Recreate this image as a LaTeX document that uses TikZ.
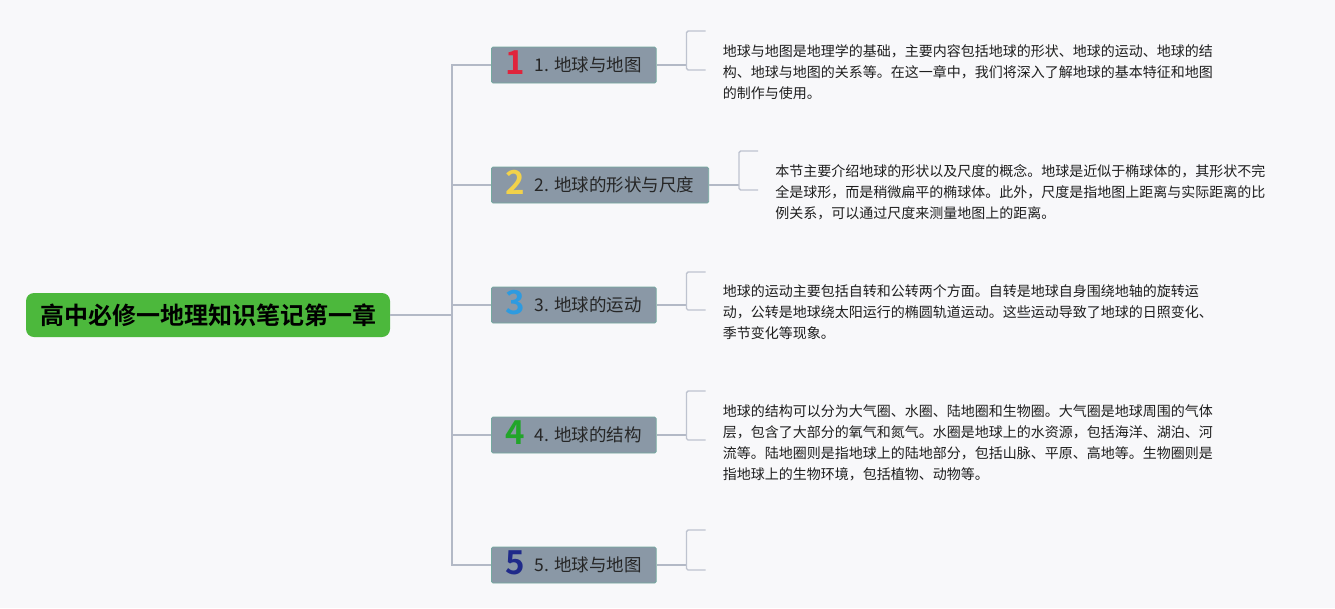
\documentclass[tikz,border=0pt]{standalone}
\usepackage{fontspec}
\newfontfamily\cjk{Noto Sans CJK SC}[BoldFont={Noto Sans CJK SC Bold}]
\usetikzlibrary{positioning}
\definecolor{bgcol}{HTML}{F8F8FA}
\definecolor{rootgreen}{HTML}{4CB83C}
\definecolor{branchfill}{HTML}{8A98A6}
\definecolor{branchedge}{HTML}{74A99F}
\definecolor{linkgray}{HTML}{B3B9C6}
\definecolor{notetext}{HTML}{1E1E1E}
\definecolor{numred}{HTML}{E0243C}
\definecolor{numyellow}{HTML}{F2D24A}
\definecolor{numblue}{HTML}{2E9BE0}
\definecolor{numgreen}{HTML}{22A52A}
\definecolor{numnavy}{HTML}{1F2A8A}
\tikzset{
  rootbox/.style={fill=rootgreen, rounded corners=8pt, minimum width=364pt,
    minimum height=44pt, text=black, font=\cjk\bfseries\fontsize{24}{24}\selectfont},
  branchbox/.style={fill=branchfill, draw=branchedge, line width=0.8pt,
    rounded corners=1.5pt, minimum height=36pt, inner xsep=14.5pt, inner ysep=3pt,
    anchor=west, text=black!85, font=\cjk\fontsize{17.5}{17.5}\selectfont},
  notebox/.style={align=left, inner sep=0pt, text=notetext,
    font=\cjk\fontsize{14}{21}\selectfont},
  link/.style={draw=linkgray, line width=1.5pt},
  bracketline/.style={draw=linkgray!85, line width=1.3pt, rounded corners=1.5pt}
}
\newcommand{\badge}[2]{\smash{\raisebox{-2.5pt}{\fontsize{33}{33}\selectfont\bfseries\color{#1}#2}}\hspace{9pt}}
\begin{document}
\begin{tikzpicture}[x=1pt,y=-1pt]
  \fill[bgcol] (0,0) rectangle (1335,608);
  \useasboundingbox (0,0) rectangle (1335,608);

  % root and branches
  \node[rootbox] (root) at (208,315) {高中必修一地理知识笔记第一章};
  \node[branchbox] (b1) at (491,65) {\badge{numred}{1}1. 地球与地图};
  \node[branchbox] (b2) at (491,185) {\badge{numyellow}{2}2. 地球的形状与尺度};
  \node[branchbox] (b3) at (491,305) {\badge{numblue}{3}3. 地球的运动};
  \node[branchbox] (b4) at (491,435) {\badge{numgreen}{4}4. 地球的结构};
  \node[branchbox] (b5) at (491,565) {\badge{numnavy}{5}5. 地球与地图};

  \coordinate (hub) at (452,315);
  \draw[link] (root.east) -- (hub);
  \draw[link] (b1.west) -| (hub) |- (b5.west);
  \foreach \i in {2,3,4}
    \draw[link] (hub |- b\i.west) -- (b\i.west);

  % brackets
  \foreach \i/\up in {1/34,2/34,3/33,4/44,5/35} {
    \coordinate (k\i) at ([xshift=30pt]b\i.east);
    \draw[link] (b\i.east) -- (k\i);
    \draw[bracketline] ([xshift=19pt,yshift=\up pt]k\i) -| ([yshift=-5pt]k\i) -- ++(19,0);
  }

  % notes
  \node[notebox, right=36pt of k1, yshift=-7.5pt] (t1) {地球与地图是地理学的基础，主要内容包括地球的形状、地球的运动、地球的结\\构、地球与地图的关系等。在这一章中，我们将深入了解地球的基本特征和地图\\的制作与使用。};
  \node[notebox, right=36pt of k2, yshift=-7.5pt] (t2) {本节主要介绍地球的形状以及尺度的概念。地球是近似于椭球体的，其形状不完\\全是球形，而是稍微扁平的椭球体。此外，尺度是指地图上距离与实际距离的比\\例关系，可以通过尺度来测量地图上的距离。};
  \node[notebox, right=36pt of k3, yshift=-7.5pt] (t3) {地球的运动主要包括自转和公转两个方面。自转是地球自身围绕地轴的旋转运\\动，公转是地球绕太阳运行的椭圆轨道运动。这些运动导致了地球的日照变化、\\季节变化等现象。};
  \node[notebox, right=36pt of k4, yshift=-7.5pt] (t4) {地球的结构可以分为大气圈、水圈、陆地圈和生物圈。大气圈是地球周围的气体\\层，包含了大部分的氧气和氮气。水圈是地球上的水资源，包括海洋、湖泊、河\\流等。陆地圈则是指地球上的陆地部分，包括山脉、平原、高地等。生物圈则是\\指地球上的生物环境，包括植物、动物等。};
\end{tikzpicture}
\end{document}
